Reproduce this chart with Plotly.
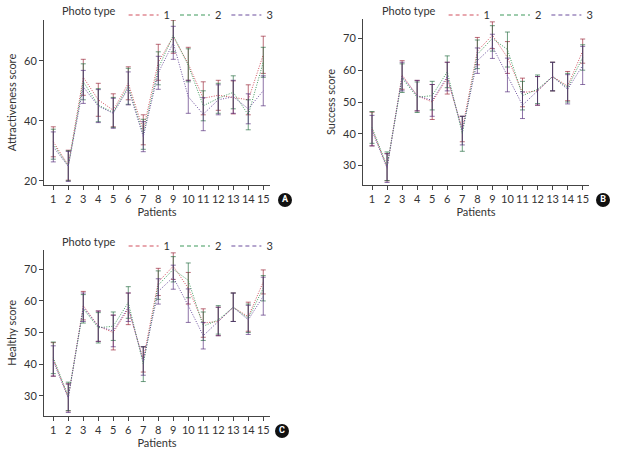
import plotly.graph_objects as go

patients = list(range(1, 15 + 1))
tick_labels = [str(p) for p in patients]
photo_types = ["1", "2", "3"]

attr_1 = [33, 25.2, 54.5, 47, 43.5, 52.5, 37, 59.5, 68, 59, 47.5, 48.5, 47.8, 47, 62]
attr_2 = [32.2, 25, 53, 45.2, 42.8, 51.5, 35.5, 57.5, 68.5, 58.5, 45, 47.5, 49.5, 42, 59.5]
attr_3 = [31.3, 24.8, 51.3, 44.9, 42.5, 50.8, 34.7, 56, 66, 48, 42.2, 47, 48, 44, 50]
attr_sd1 = [5, 5, 6, 5.5, 5.5, 5.5, 5, 6, 5.5, 5.5, 5.5, 5, 5.5, 5, 6.2]
attr_sd2 = [5, 5, 6, 5.5, 5, 6, 5, 5.5, 5.5, 5.5, 5, 5, 5.5, 5, 5]
attr_sd3 = [5, 5, 5.5, 5.5, 5, 5.5, 5, 5.5, 5.5, 5.5, 5.5, 5, 5.5, 5, 5]

succ_1 = [41.5, 29.5, 58.5, 52, 50, 57.5, 41.5, 66, 71, 64, 53, 53.5, 58, 55, 66]
succ_2 = [42, 29.8, 57.5, 51.5, 52, 59.5, 40, 65, 70, 66.5, 52, 54, 58, 54.5, 64]
succ_3 = [41, 29.2, 58, 52, 50.5, 58, 41, 63, 67.5, 58.5, 49, 53.5, 58, 54, 61.5]
succ_sd1 = [5.3, 4.3, 4.5, 4.8, 5.5, 5, 4, 4.3, 4.2, 5, 4.5, 4.5, 4.5, 4.6, 3.8]
succ_sd2 = [5, 4.5, 4.5, 4.8, 4.5, 5, 5.5, 4.5, 4, 5.5, 4.5, 4.5, 4.5, 4.5, 4]
succ_sd3 = [4.8, 4.5, 4.5, 4.8, 5, 4.5, 4.5, 4, 3.8, 5.3, 4.2, 4.5, 4.5, 4.6, 6]

health_1 = [41.5, 29.5, 58.5, 52, 50, 57.5, 41.5, 66, 71, 64, 53, 53.5, 58, 55, 66]
health_2 = [42, 29.8, 57.5, 51.5, 52, 59.5, 40, 65, 70, 66.5, 52, 54, 58, 54.5, 64]
health_3 = [41, 29.2, 58, 52, 50.5, 58, 41, 63, 67.5, 58.5, 49, 53.5, 58, 54, 61.5]
health_sd1 = [5.3, 4.3, 4.5, 4.8, 5.5, 5, 4, 4.3, 4.2, 5, 4.5, 4.5, 4.5, 4.6, 3.8]
health_sd2 = [5, 4.5, 4.5, 4.8, 4.5, 5, 5.5, 4.5, 4, 5.5, 4.5, 4.5, 4.5, 4.5, 4]
health_sd3 = [4.8, 4.5, 4.5, 4.8, 5, 4.5, 4.5, 4, 3.8, 5.3, 4.2, 4.5, 4.5, 4.6, 6]

panel_letters = ["A", "B", "C"]

line_colors = ["#d2505e", "#3f9a5c", "#6d4f9e"]
bar_colors = ["rgba(150,30,50,0.65)", "rgba(30,105,60,0.65)", "rgba(80,40,120,0.65)"]

FONT = "Lato, 'Open Sans', sans-serif"
TXT = "#333333"

panels = [
    dict(means=[attr_1, attr_2, attr_3], sds=[attr_sd1, attr_sd2, attr_sd3],
         xa="x", ya="y", legend="legend"),
    dict(means=[succ_1, succ_2, succ_3], sds=[succ_sd1, succ_sd2, succ_sd3],
         xa="x2", ya="y2", legend="legend2"),
    dict(means=[health_1, health_2, health_3], sds=[health_sd1, health_sd2, health_sd3],
         xa="x3", ya="y3", legend="legend3"),
]

fig = go.Figure()
for p in panels:
    for i in range(3):
        fig.add_trace(go.Scatter(
            x=patients, y=p["means"][i], mode="lines",
            line=dict(color=line_colors[i], width=1, dash="1px,1.5px"),
            error_y=dict(type="data", array=p["sds"][i], color=bar_colors[i],
                         thickness=1, width=2.5),
            xaxis=p["xa"], yaxis=p["ya"], showlegend=False, hoverinfo="skip"))
    for i in range(3):
        fig.add_trace(go.Scatter(
            x=[None], y=[None], mode="lines", name=photo_types[i],
            line=dict(color=line_colors[i], width=1.2, dash="4px,3px"),
            xaxis=p["xa"], yaxis=p["ya"], legend=p["legend"], showlegend=True))

W, H = 619, 454

# badge overlay axis in pixel units (decoration only)
badge_x = [285, 603, 282]
badge_y = [200, 200, 431]
fig.add_trace(go.Scatter(
    x=badge_x, y=badge_y, mode="markers+text", text=["<b>%s</b>" % s for s in panel_letters],
    textposition="middle center",
    textfont=dict(size=9, color="white", family="Roboto, sans-serif"),
    marker=dict(size=14, color="#111", line=dict(width=0)),
    xaxis="x4", yaxis="y4", showlegend=False, hoverinfo="skip", cliponaxis=False))

def xdom(a, b):
    return [a / W, b / W]

def ydom(top, bottom):
    return [1 - bottom / H, 1 - top / H]

axis_common = dict(showline=True, linecolor="#444", linewidth=1, ticks="outside",
                   ticklen=4, tickcolor="#444", showgrid=False, zeroline=False,
                   automargin=False, tickangle=0,
                   tickfont=dict(size=11, color=TXT, family=FONT),
                   title_font=dict(size=11, color=TXT, family=FONT))

def xaxis(dom, rng, anchor):
    return dict(axis_common, domain=dom, range=rng, anchor=anchor, tickmode="array",
                tickvals=patients, ticktext=tick_labels, title_text="Patients",
                title_standoff=4)

def yaxis(dom, rng, anchor, title, tv):
    return dict(axis_common, domain=dom, range=rng, anchor=anchor, tickvals=tv,
                title_text=title, title_standoff=5)

legend_common = dict(orientation="h", font=dict(size=11, color=TXT, family=FONT),
                     title=dict(text="Photo type", side="left",
                                font=dict(size=11, color=TXT, family=FONT)),
                     bgcolor="rgba(0,0,0,0)", itemwidth=30, tracegroupgap=0,
                     xanchor="left", yanchor="middle")

fig.update_layout(
    width=W, height=H, margin=dict(l=0, r=0, t=0, b=0, autoexpand=False),
    paper_bgcolor="white", plot_bgcolor="rgba(0,0,0,0)",
    font=dict(family=FONT, color=TXT, size=11),
    xaxis=xaxis(xdom(44, 270), [0.38, 15.45], "y"),
    yaxis=yaxis(ydom(20, 185), [18.6, 73.6], "x", "Attractiveness score", [20, 40, 60]),
    xaxis2=xaxis(xdom(363, 589), [0.40, 15.42], "y2"),
    yaxis2=yaxis(ydom(19, 185), [23.9, 76.1], "x2", "Success score", [30, 40, 50, 60, 70]),
    xaxis3=xaxis(xdom(44, 270), [0.38, 15.45], "y3"),
    yaxis3=yaxis(ydom(250, 415.7), [23.7, 76.1], "x3", "Healthy score", [30, 40, 50, 60, 70]),
    xaxis4=dict(domain=[0, 1], range=[0, W], visible=False, fixedrange=True, anchor="y4"),
    yaxis4=dict(domain=[0, 1], range=[H, 0], visible=False, fixedrange=True, anchor="x4"),
    legend=dict(legend_common, x=60 / W, y=1 - 15 / H),
    legend2=dict(legend_common, x=380 / W, y=1 - 15 / H),
    legend3=dict(legend_common, x=60 / W, y=1 - 246 / H),
)

fig.write_html("out.html", config={"displayModeBar": False},
               post_script="document.body.style.margin='0';document.body.style.padding='0';")
